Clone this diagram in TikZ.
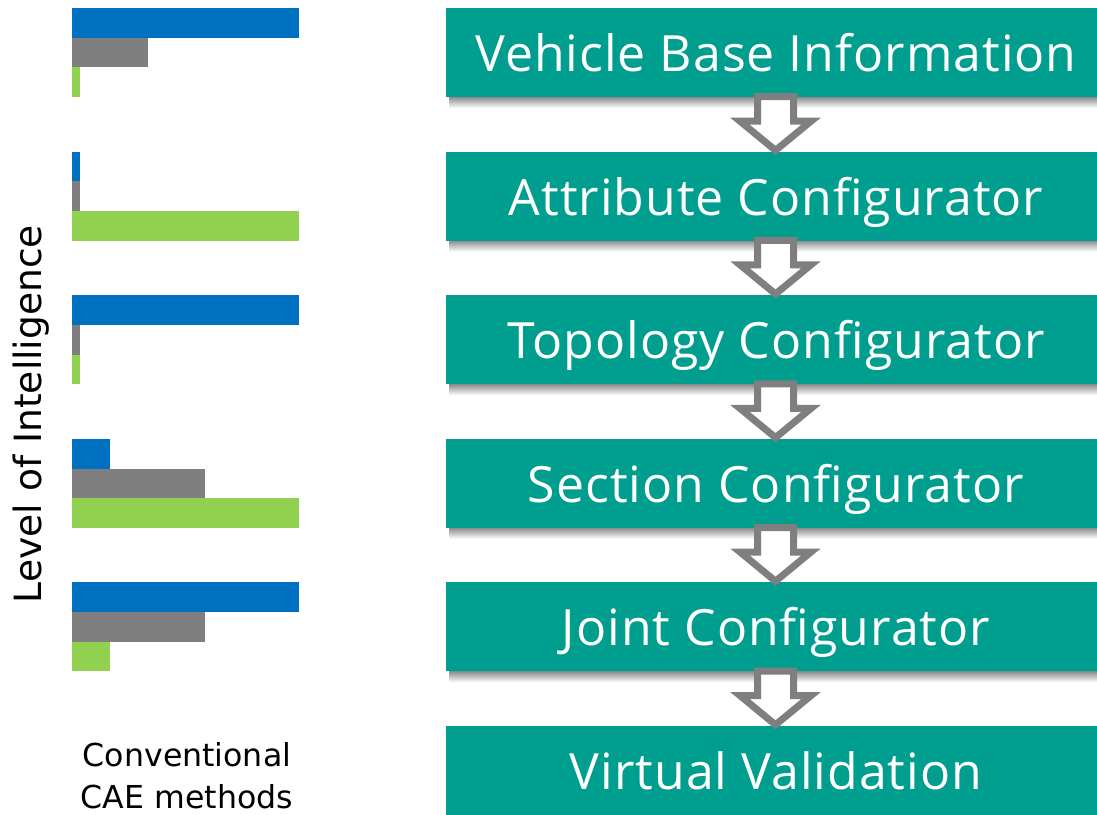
\documentclass[tikz,border=0pt]{standalone}
\usepackage{fontspec}
\setmainfont{Open Sans}[LetterSpace=2]
\newfontfamily\lblfont{DejaVu Sans}
\usetikzlibrary{calc}
\definecolor{teal1}{RGB}{0,158,143}
\definecolor{barblue}{RGB}{0,112,192}
\definecolor{bargray}{RGB}{127,127,127}
\definecolor{bargreen}{RGB}{146,208,80}
\begin{document}
\begin{tikzpicture}[x=1pt,y=-1pt,
  stepbox/.style={fill=teal1, minimum width=651pt, minimum height=89pt, inner sep=0pt,
    text=white, font=\fontsize{50}{60}\selectfont, text height=38pt, text depth=0pt},
  hollowarrow/.style={draw=bargray, line width=7pt, fill=white, line join=miter},
  boxshadow/.style={top color=black!45, bottom color=white, draw=none},
  lbl/.style={font=\lblfont\fontsize{#1}{42}\selectfont, inner sep=0pt}
  ]
\useasboundingbox (0,0) rectangle (1097,814);
% shadows
\foreach \k in {0,...,4}{
  \pgfmathsetmacro\bb{97+143.6*\k}
  \shade[boxshadow] (449,\bb) rectangle (1097,\bb+11);
}
% boxes
\node[stepbox] (b1) at (771.5,52.5)  {\hspace*{9pt}Vehicle Base Information};
\node[stepbox] (b2) at (771.5,196.1) {\hspace*{9pt}Attribute Configurator};
\node[stepbox] (b3) at (771.5,339.7) {\hspace*{9pt}Topology Configurator};
\node[stepbox] (b4) at (771.5,483.3) {\hspace*{9pt}Section Configurator};
\node[stepbox] (b5) at (771.5,626.9) {\hspace*{9pt}Joint Configurator};
\node[stepbox] (b6) at (771.5,770.5) {\hspace*{9pt}Virtual Validation};
% hollow arrows
\foreach \p/\n in {b1/b2,b2/b3,b3/b4,b4/b5,b5/b6}{
  \draw[hollowarrow] ($(\p.south)+(-14,-0.5)$) -- ++(36,0) -- ++(0,24.5) -- ++(17.5,0)
     -- ($(\n.north)+(4,-1)$) -- ($(\p.south)+(-31.5,24)$) -- ++(17.5,0) -- cycle;
}
% bars
\foreach \k/\a/\b/\c in {0/227/76/8, 1/8/8/227, 2/227/8/8, 3/38/133/227, 4/227/133/38}{
  \pgfmathsetmacro\t{8+143.6*\k}
  \fill[barblue]   (72,\t) rectangle ++(\a,29.7);
  \fill[bargray]   (72,\t+29.7) rectangle ++(\b,29.7);
  \fill[bargreen]  (72,\t+59.4) rectangle ++(\c,29.6);
}
% labels
\node[lbl=37.6, rotate=90, anchor=base] (ylab) at (41,414) {Level of Intelligence};
\node[lbl=31.6, align=center] (cae) at (187,775.5) {Conventional\\CAE methods};
\end{tikzpicture}
\end{document}
